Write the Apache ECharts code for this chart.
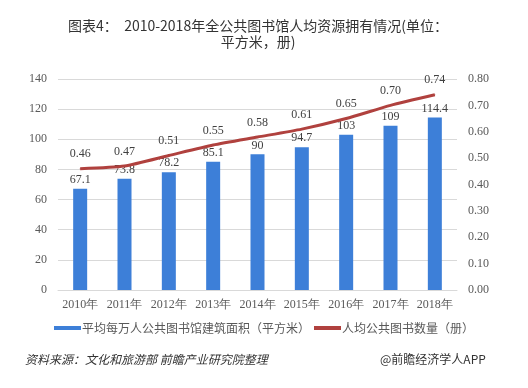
<!DOCTYPE html>
<html><head><meta charset="utf-8">
<script src="https://cdn.jsdelivr.net/npm/echarts@6/dist/echarts.min.js"></script>
<style>html,body{margin:0;padding:0;background:#fff}#c{width:528px;height:388px}</style>
</head><body><div id="c"></div>
<script>
const categories = ['2010年','2011年','2012年','2013年','2014年','2015年','2016年','2017年','2018年'];
const areaValues = [67.1, 73.8, 78.2, 85.1, 90, 94.7, 103, 109, 114.4];
const bookValues = [0.46, 0.47, 0.51, 0.55, 0.58, 0.61, 0.65, 0.70, 0.74];
const leftTicks = {min: 0, max: 140, interval: 20};
const rightTicks = {min: 0, max: 0.8, interval: 0.1};
const serif = '"Liberation Serif", "Times New Roman", serif';
const sans = '"Noto Sans CJK SC", "Noto Sans", sans-serif';
const chart = echarts.init(document.getElementById('c'), null, {renderer: 'canvas'});
chart.setOption({
  animation: false,
  title: {
    text: '图表4：  2010-2018年全公共图书馆人均资源拥有情况(单位：\n平方米，册)',
    left: 253, top: 13, textAlign: 'center',
    textStyle: {fontFamily: sans, fontSize: 14, fontWeight: 'normal', color: '#333', lineHeight: 16}
  },
  grid: {left: 58, right: 71, top: 79, bottom: 98, containLabel: false},
  legend: {
    bottom: 49, left: 'center', itemGap: 4,
    data: [
      {name: '平均每万人公共图书馆建筑面积（平方米）', icon: 'rect'},
      {name: '人均公共图书数量（册）', icon: 'rect'}
    ],
    itemWidth: 27, itemHeight: 4,
    textStyle: {fontFamily: sans, fontSize: 12, color: '#595959', padding: [0, 0, 0, -4]}
  },
  xAxis: {
    type: 'category', data: categories,
    axisLine: {lineStyle: {color: '#d9d9d9'}}, axisTick: {show: false},
    axisLabel: {interval: 0, fontFamily: serif, fontSize: 12, color: '#595959', margin: 9}
  },
  yAxis: [
    {type: 'value', min: leftTicks.min, max: leftTicks.max, interval: leftTicks.interval,
      axisLine: {show: false}, axisTick: {show: false},
      splitLine: {lineStyle: {color: '#d9d9d9'}},
      axisLabel: {fontFamily: serif, fontSize: 12, color: '#595959', margin: 11}},
    {type: 'value', min: rightTicks.min, max: rightTicks.max, interval: rightTicks.interval,
      axisLine: {show: false}, axisTick: {show: false}, splitLine: {show: false},
      axisLabel: {fontFamily: serif, fontSize: 12, color: '#595959', margin: 11,
        formatter: v => v.toFixed(2)}}
  ],
  series: [
    {name: '平均每万人公共图书馆建筑面积（平方米）', type: 'bar', data: areaValues, barWidth: 14,
      itemStyle: {color: '#3d7fd8'},
      label: {show: true, position: 'top', distance: 3, fontFamily: serif, fontSize: 12, color: '#404040'}},
    {name: '人均公共图书数量（册）', type: 'line', yAxisIndex: 1, data: bookValues,
      symbol: 'circle', symbolSize: 1, showSymbol: true, smooth: 0.2,
      lineStyle: {color: '#b0413e', width: 3}, itemStyle: {color: '#b0413e'},
      label: {show: true, position: 'top', distance: 8, fontFamily: serif, fontSize: 12, color: '#404040',
        formatter: p => p.value.toFixed(2)}}
  ],
  graphic: [
    {type: 'text', left: 25, top: 353, style: {text: '资料来源：文化和旅游部 前瞻产业研究院整理',
      font: 'italic 12px ' + sans, fill: '#333'}},
    {type: 'text', left: 380, top: 353, style: {text: '@前瞻经济学人APP',
      font: '12px ' + sans, fill: '#333'}}
  ]
});
</script></body></html>
